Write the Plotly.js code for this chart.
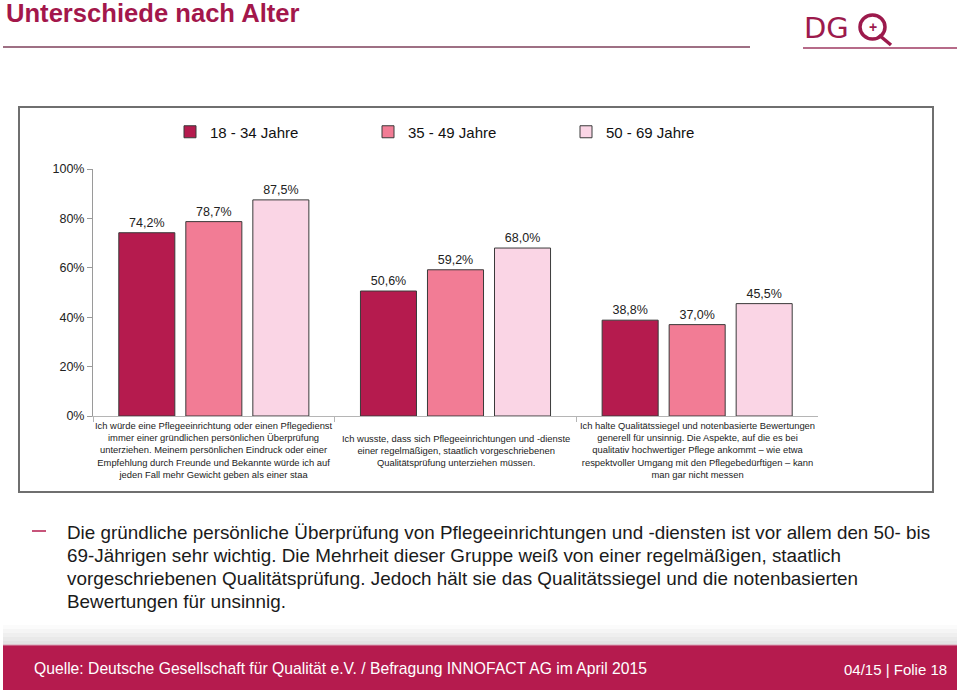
<!DOCTYPE html>
<html>
<head>
<meta charset="utf-8">
<script src="https://cdn.plot.ly/plotly-3.0.1.min.js"></script>
<style>
html,body{margin:0;padding:0;background:#fff;}
#chart{width:960px;height:696px;}
</style>
</head>
<body>
<div id="chart"></div>
<script>
// ---- data ----
var categories = [
  "Ich würde eine Pflegeeinrichtung oder einen Pflegedienst<br>immer einer gründlichen persönlichen Überprüfung<br>unterziehen. Meinem persönlichen Eindruck oder einer<br>Empfehlung durch Freunde und Bekannte würde ich auf<br>jeden Fall mehr Gewicht geben als einer staa",
  "Ich wusste, dass sich Pflegeeinrichtungen und -dienste<br>einer regelmäßigen, staatlich vorgeschriebenen<br>Qualitätsprüfung unterziehen müssen.",
  "Ich halte Qualitätssiegel und notenbasierte Bewertungen<br>generell für unsinnig. Die Aspekte, auf die es bei<br>qualitativ hochwertiger Pflege ankommt – wie etwa<br>respektvoller Umgang mit den Pflegebedürftigen – kann<br>man gar nicht messen"
];
var seriesNames = ["18 - 34 Jahre", "35 - 49 Jahre", "50 - 69 Jahre"];
var values18_34 = [74.2, 50.6, 38.8];
var values35_49 = [78.7, 59.2, 37.0];
var values50_69 = [87.5, 68.0, 45.5];
var yTickVals = [0, 20, 40, 60, 80, 100];
var yTickText = ["0%", "20%", "40%", "60%", "80%", "100%"];

var titleText = "Unterschiede nach Alter";
var bulletLines = [
  "Die gründliche persönliche Überprüfung von Pflegeeinrichtungen und -diensten ist vor allem den 50- bis",
  "69-Jährigen sehr wichtig. Die Mehrheit dieser Gruppe weiß von einer regelmäßigen, staatlich",
  "vorgeschriebenen Qualitätsprüfung. Jedoch hält sie das Qualitätssiegel und die notenbasierten",
  "Bewertungen für unsinnig."
];
var sourceText = "Quelle: Deutsche Gesellschaft für Qualität e.V. / Befragung INNOFACT AG im April 2015";
var pageText = "04/15 | Folie 18";

// ---- styles ----
var colors = ["#B51B4E", "#F27C95", "#FAD5E5"];
var crimson = "#B51B4E";
var W = 960, H = 696;
function px(x){ return x / W; }
function py(y){ return 1 - y / H; }
var FONT = "Liberation Sans, Arial, sans-serif";

var allSeries = [values18_34, values35_49, values50_69];
var traces = allSeries.map(function(vals, i){
  return {
    type: "bar",
    name: seriesNames[i],
    x: categories,
    y: vals,
    marker: {color: colors[i], line: {color: "#3a3a3a", width: 1}},
    texttemplate: "%{y:.1f}%",
    textposition: "outside",
    cliponaxis: false,
    textfont: {family: FONT, size: 12.5, color: "#222"},
    hoverinfo: "skip"
  };
});

var annotations = [];
// category labels
categories.forEach(function(c){
  annotations.push({
    xref: "x", yref: "paper", x: c, y: py(450),
    xanchor: "center", yanchor: "middle", align: "center",
    text: c, showarrow: false,
    font: {family: FONT, size: 9.4, color: "#222"}
  });
});
// title
annotations.push({
  xref: "paper", yref: "paper", x: px(4), y: py(13),
  xanchor: "left", yanchor: "middle", text: "<b>" + titleText + "</b>", showarrow: false,
  font: {family: FONT, size: 25.6, color: "#A3174B"}
});
// logo
annotations.push({
  xref: "paper", yref: "paper", x: px(802), y: py(28),
  xanchor: "left", yanchor: "middle", text: "DG", showarrow: false,
  font: {family: "DejaVu Sans, sans-serif", size: 29, color: "#9C1A4C"}
});
annotations.push({
  xref: "paper", yref: "paper", x: px(873), y: py(27),
  xanchor: "center", yanchor: "middle", text: "<b>+</b>", showarrow: false,
  font: {family: FONT, size: 14, color: "#9C1A4C"}
});
// bullet text, one annotation per line
bulletLines.forEach(function(line, i){
  annotations.push({
    xref: "paper", yref: "paper", x: px(65), y: py(532 + 23 * i),
    xanchor: "left", yanchor: "middle", align: "left", text: line, showarrow: false,
    font: {family: FONT, size: 18.85, color: "#1a1a1a"}
  });
});
// footer
annotations.push({
  xref: "paper", yref: "paper", x: px(32), y: py(668),
  xanchor: "left", yanchor: "middle", text: sourceText, showarrow: false,
  font: {family: FONT, size: 15.7, color: "#ffffff"}
});
annotations.push({
  xref: "paper", yref: "paper", x: px(949), y: py(669),
  xanchor: "right", yanchor: "middle", text: pageText, showarrow: false,
  font: {family: FONT, size: 15, color: "#ffffff"}
});

var shapes = [
  // header line
  {type: "line", xref: "paper", yref: "paper", x0: px(3), x1: px(750), y0: py(47), y1: py(47), line: {color: "#9E7084", width: 2}},
  // logo line
  {type: "line", xref: "paper", yref: "paper", x0: px(803), x1: px(957), y0: py(48), y1: py(48), line: {color: "#9E3A62", width: 1.5}},
  // logo Q circle
  {type: "circle", xref: "paper", yref: "paper", x0: px(860), x1: px(885), y0: py(39), y1: py(15), line: {color: "#9C1A4C", width: 3.5}},
  {type: "line", xref: "paper", yref: "paper", x0: px(879), x1: px(891), y0: py(35), y1: py(45), line: {color: "#9C1A4C", width: 3.5}},
  // chart frame
  {type: "rect", xref: "paper", yref: "paper", x0: px(19), x1: px(933), y0: py(492), y1: py(107), line: {color: "#6f6f6f", width: 2}},
  // bullet dash
  {type: "line", xref: "paper", yref: "paper", x0: px(32), x1: px(46), y0: py(531), y1: py(531), line: {color: "#B51B4E", width: 1.5}}
];
// footer gradient
var gradSteps = ["#fbfbfb", "#f5f5f5", "#efefef", "#e9e9e9", "#e3e3e3"];
gradSteps.forEach(function(c, i){
  shapes.push({type: "rect", xref: "paper", yref: "paper", x0: px(3), x1: px(957),
    y0: py(625 + i * 4 + 4), y1: py(625 + i * 4), line: {width: 0}, fillcolor: c, layer: "below"});
});
shapes.push({type: "rect", xref: "paper", yref: "paper", x0: px(3), x1: px(957), y0: py(690), y1: py(645),
  line: {width: 0}, fillcolor: crimson, layer: "below"});
shapes.push({type: "line", xref: "paper", yref: "paper", x0: px(3), x1: px(957), y0: py(645), y1: py(645),
  line: {color: "#d8a0b4", width: 1}});

var layout = {
  width: W, height: H,
  margin: {l: 0, r: 0, t: 0, b: 0},
  paper_bgcolor: "#ffffff", plot_bgcolor: "rgba(0,0,0,0)",
  separators: ",.",
  barmode: "group",
  bargap: 0.168,
  bargroupgap: 0.164,
  showlegend: true,
  legend: {
    orientation: "h", x: px(170), y: py(132), xanchor: "left", yanchor: "middle",
    font: {family: FONT, size: 15, color: "#111"},
    entrywidth: 153, entrywidthmode: "pixels",
    bgcolor: "rgba(0,0,0,0)", traceorder: "normal"
  },
  xaxis: {
    domain: [px(93), px(818)],
    type: "category",
    range: [-0.5, 2.5],
    autorange: false,
    showticklabels: false,
    showline: true, linecolor: "#b5b5b5", linewidth: 1,
    ticks: "outside", tickson: "boundaries", ticklen: 5, tickcolor: "#b5b5b5",
    showgrid: false, zeroline: false, fixedrange: true
  },
  yaxis: {
    domain: [py(416), py(169)],
    range: [0, 100],
    autorange: false,
    tickmode: "array",
    tickvals: yTickVals,
    ticktext: yTickText,
    showline: true, linecolor: "#9a9a9a", linewidth: 1,
    ticks: "outside", ticklen: 5, tickcolor: "#9a9a9a",
    tickfont: {family: FONT, size: 12.5, color: "#222"},
    showgrid: false, zeroline: false, fixedrange: true
  },
  annotations: annotations,
  shapes: shapes,
  font: {family: FONT}
};

Plotly.newPlot("chart", traces, layout, {displayModeBar: false, staticPlot: true});
</script>
</body>
</html>
